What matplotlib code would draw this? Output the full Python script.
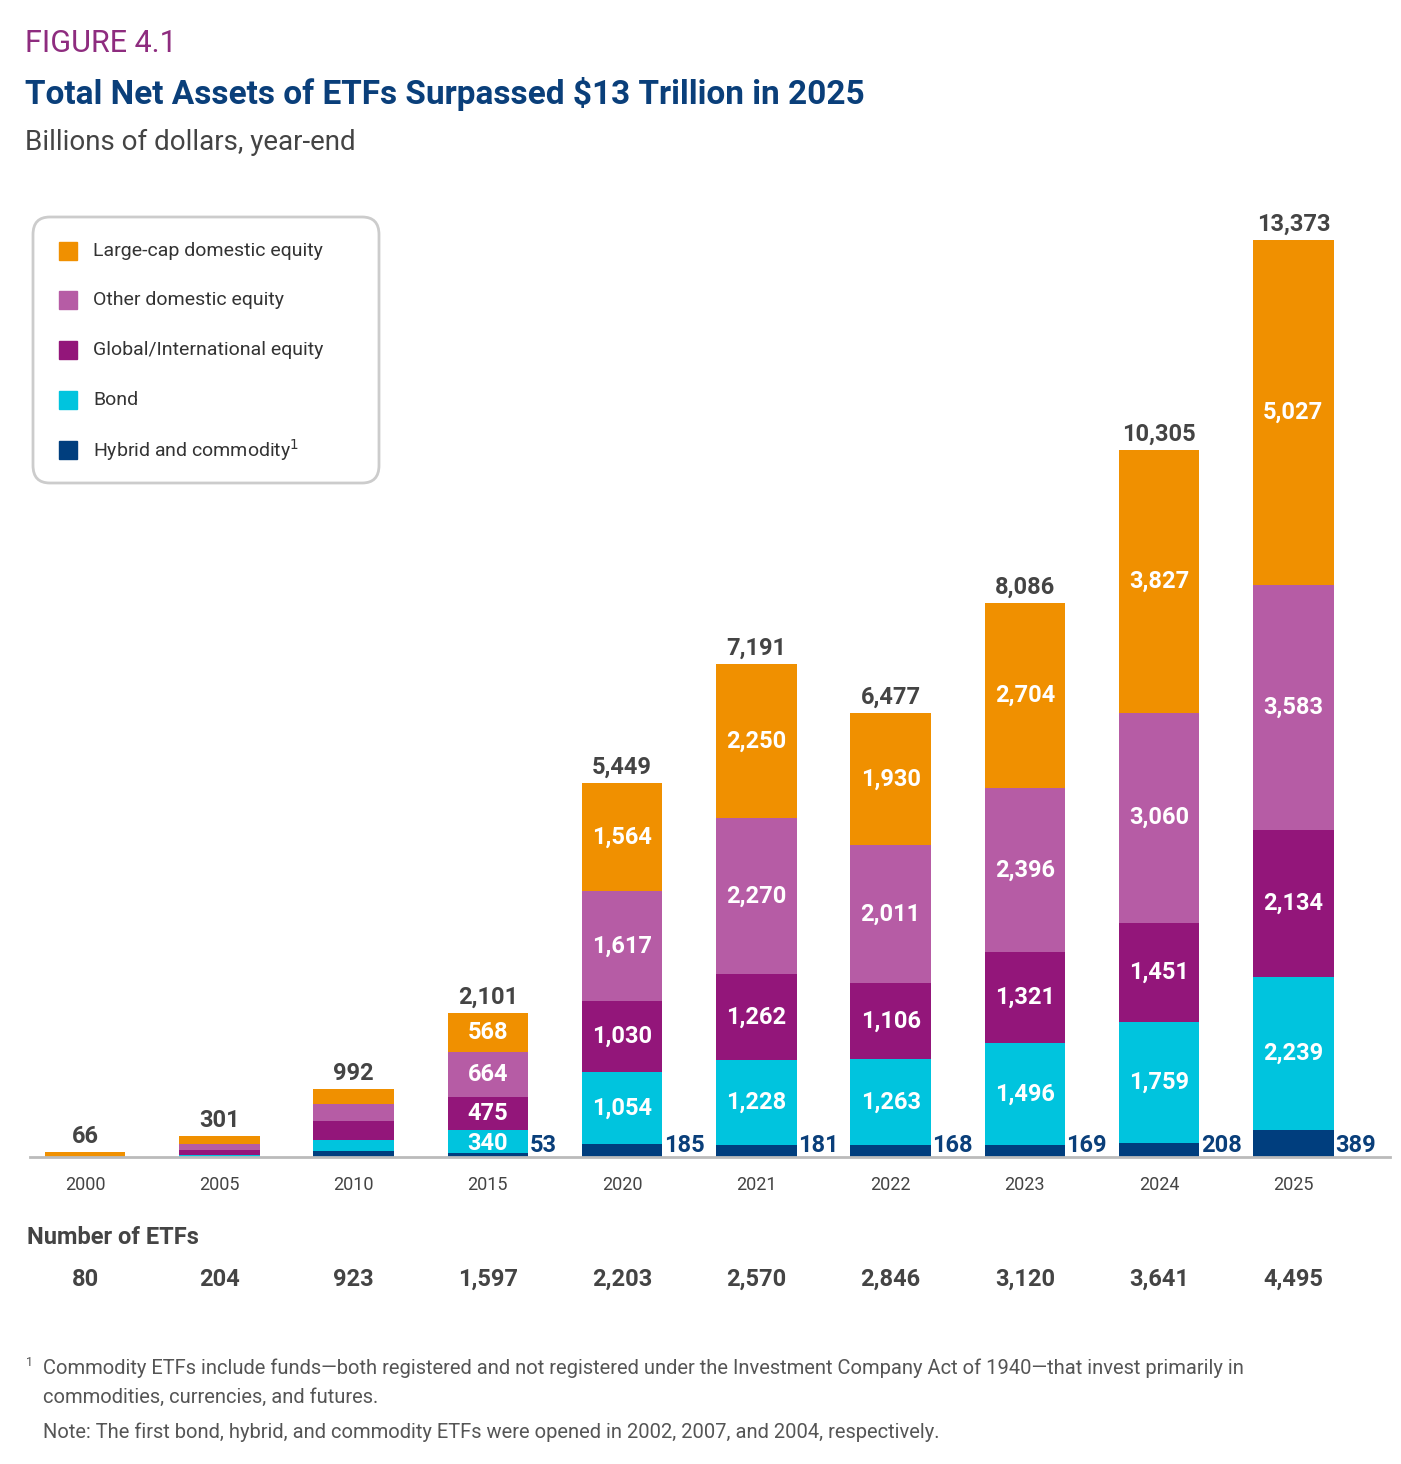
import matplotlib
matplotlib.use("Agg")
import matplotlib.pyplot as plt
from matplotlib.patches import FancyBboxPatch
import numpy as np

plt.rcParams['font.family'] = ['Roboto', 'DejaVu Sans']

years = ["2000","2005","2010","2015","2020","2021","2022","2023","2024","2025"]
hybrid = [0, 6, 92, 53, 185, 181, 168, 169, 208, 389]
bond = [0, 25, 150, 340, 1054, 1228, 1263, 1496, 1759, 2239]
global_eq = [0, 65, 280, 475, 1030, 1262, 1106, 1321, 1451, 2134]
other_dom = [0, 90, 250, 664, 1617, 2270, 2011, 2396, 3060, 3583]
large_cap = [66, 115, 220, 568, 1564, 2250, 1930, 2704, 3827, 5027]
totals = [66, 301, 992, 2101, 5449, 7191, 6477, 8086, 10305, 13373]
num_etfs = ["80","204","923","1,597","2,203","2,570","2,846","3,120","3,641","4,495"]

series = [("Hybrid and commodity", hybrid, "#003E7E"),
          ("Bond", bond, "#00C4DE"),
          ("Global/International equity", global_eq, "#93167A"),
          ("Other domestic equity", other_dom, "#B65CA5"),
          ("Large-cap domestic equity", large_cap, "#F09000")]

fig = plt.figure(figsize=(14.01, 14.64), dpi=100)
ax = fig.add_axes([30/1401, 307/1464, 1360/1401, 960/1464])
x = np.arange(len(years))
w = 0.6
bottom = np.zeros(len(years))
for name, vals, col in series:
    v = np.array(vals, float)
    ax.bar(x, v, w, bottom=bottom, color=col, zorder=2)
    for i in range(len(years)):
        if i < 3 and name != "Large-cap domestic equity":
            continue
        if i < 3:
            continue
        if name == "Hybrid and commodity":
            ax.text(x[i] + w/2 + 0.01, bottom[i], f"{vals[i]:,}", ha="left", va="bottom",
                    color="#0A3F7A", fontsize=17, fontweight="bold")
        elif name == "Bond" and i == 3:
            ax.text(x[i], bottom[i] + v[i] - 30, f"{vals[i]:,}", ha="center", va="top",
                    color="white", fontsize=17, fontweight="bold")
        else:
            ax.text(x[i], bottom[i] + v[i]/2, f"{vals[i]:,}", ha="center", va="center",
                    color="white", fontsize=17, fontweight="bold")
    bottom += v
for i, t in enumerate(totals):
    ax.text(x[i], t + 60, f"{t:,}", ha="center", va="bottom", color="#444444",
            fontsize=17, fontweight="bold")

ax.set_xlim(-0.41, 9.72)
ax.set_ylim(0, 14000)
for s in ["top", "right", "left"]:
    ax.spines[s].set_visible(False)
ax.spines["bottom"].set_color("#BBBBBB")
ax.spines["bottom"].set_linewidth(2)
ax.set_yticks([])
ax.set_xticks(x)
ax.set_xticklabels(years, fontsize=13, color="#444444")
ax.tick_params(axis="x", length=0, pad=14)

def fy(py):
    return 1 - py/1464

fig.text(25/1401, fy(44), "FIGURE 4.1", color="#8E2C7F", fontsize=22, va="center")
fig.text(25/1401, fy(94), "Total Net Assets of ETFs Surpassed $13 Trillion in 2025",
         color="#0A3F7A", fontsize=24, fontweight="bold", va="center")
fig.text(25/1401, fy(142), "Billions of dollars, year-end", color="#444444", fontsize=20, va="center")

# legend
box = FancyBboxPatch((33/1401, fy(483)), 346/1401, 266/1464,
                     boxstyle="round,pad=0,rounding_size=0.012",
                     transform=fig.transFigure, fc="white", ec="#CCCCCC", lw=2)
fig.patches.append(box)
leg_y = [251, 300, 350, 400, 450]
for (name, vals, col), yy in zip(series[::-1], leg_y):
    fig.patches.append(plt.Rectangle((59/1401, fy(yy + 9)), 18/1401, 18/1464,
                                     transform=fig.transFigure, color=col))
    label = name + ("$^{1}$" if name.startswith("Hybrid") else "")
    fig.text(93/1401, fy(yy), label, fontsize=14, color="#333333", va="center")

fig.text(27/1401, fy(1238), "Number of ETFs", fontsize=17, fontweight="bold",
         color="#444444", va="center")
for i, n in enumerate(num_etfs):
    xp = ax.transData.transform((x[i], 0))[0] / fig.bbox.width
    fig.text(xp, fy(1279), n, fontsize=17, fontweight="bold", color="#444444",
             ha="center", va="center")

fig.text(26/1401, fy(1362), "1", fontsize=9, color="#555555", va="center")
fig.text(43/1401, fy(1368), "Commodity ETFs include funds\u2014both registered and not registered under the Investment Company Act of 1940\u2014that invest primarily in",
         fontsize=14.5, color="#555555", va="center")
fig.text(43/1401, fy(1397), "commodities, currencies, and futures.", fontsize=14.5, color="#555555", va="center")
fig.text(43/1401, fy(1432), "Note: The first bond, hybrid, and commodity ETFs were opened in 2002, 2007, and 2004, respectively.",
         fontsize=14.5, color="#555555", va="center")

fig.savefig("out.png", dpi=100)
